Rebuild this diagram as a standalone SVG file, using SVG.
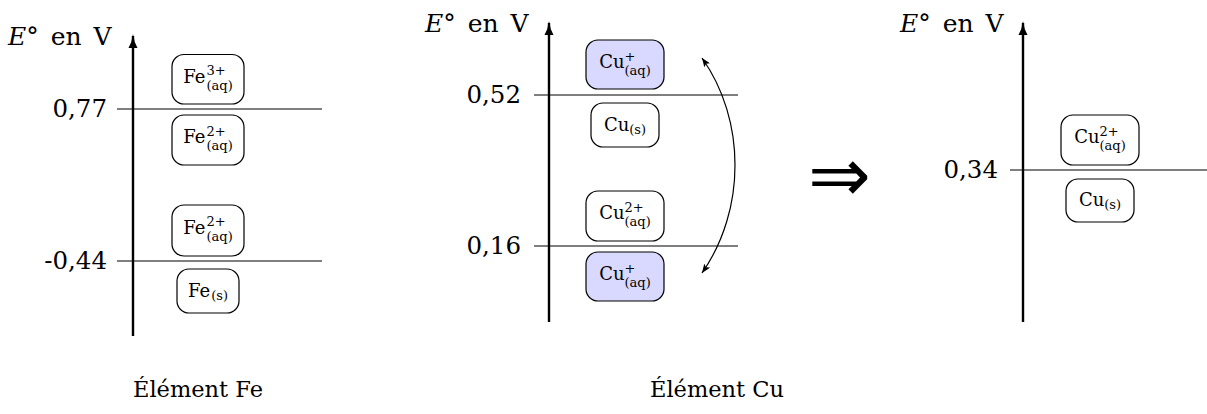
<svg xmlns="http://www.w3.org/2000/svg" width="1207" height="414" viewBox="0 0 1207 414" font-family="'DejaVu Serif', serif">
<style>
text{font-family:"DejaVu Serif",serif;fill:#000}
.lbl{font-size:25px;word-spacing:4px}
.num{font-size:24.5px;text-anchor:end}
.cap{font-size:22.5px}
.m{font-size:18px}
.s{font-size:13px}
.box{fill:#fff;stroke:#000;stroke-width:1.2}
.blue{fill:#d9d9ff}
.lvl{stroke:#000;stroke-width:1.1;fill:none}
.axis{stroke:#000;stroke-width:2.4;fill:none}
.curve{stroke:#000;stroke-width:1.2;fill:none}
</style>
<defs>
<marker id="ax" viewBox="0 0 14 10" refX="12" refY="5" markerWidth="14" markerHeight="10" markerUnits="userSpaceOnUse" orient="auto">
<path d="M0,0.5 Q6,4 14,5 Q6,6 0,9.5 Z" fill="#000"/>
</marker>
<marker id="hd" viewBox="0 0 9 7" refX="9" refY="3.5" markerWidth="9" markerHeight="7" markerUnits="userSpaceOnUse" orient="auto-start-reverse">
<path d="M0,0 L9,3.5 L0,7 L2,3.5 Z" fill="#000"/>
</marker>
</defs>

<g id="connectors">
<line class="axis" x1="133" y1="336" x2="133" y2="36" marker-end="url(#ax)"/>
<line class="axis" x1="549" y1="322" x2="549" y2="23" marker-end="url(#ax)"/>
<line class="axis" x1="1023" y1="322" x2="1023" y2="23" marker-end="url(#ax)"/>
<line class="lvl" x1="117" y1="109" x2="322" y2="109"/>
<line class="lvl" x1="117" y1="261" x2="322" y2="261"/>
<line class="lvl" x1="534" y1="95" x2="738" y2="95"/>
<line class="lvl" x1="534" y1="246" x2="738" y2="246"/>
<line class="lvl" x1="1010" y1="170" x2="1207" y2="170"/>
<path class="curve" d="M702,58 C746,120 746,210 702,273" marker-start="url(#hd)" marker-end="url(#hd)"/>
</g>

<g id="labels">
<text class="lbl" x="8" y="45"><tspan font-style="italic">E</tspan>° en V</text>
<text class="lbl" x="425" y="32"><tspan font-style="italic">E</tspan>° en V</text>
<text class="lbl" x="900" y="32"><tspan font-style="italic">E</tspan>° en V</text>
<text class="num" x="107" y="117">0,77</text>
<text class="num" x="107" y="269">-0,44</text>
<text class="num" x="521" y="103">0,52</text>
<text class="num" x="521" y="254">0,16</text>
<text class="num" x="998" y="178">0,34</text>
<text x="808" y="201" style="font-family:'DejaVu Sans',sans-serif;font-size:75px">⇒</text>
<text class="cap" x="133" y="397">Élément Fe</text>
<text class="cap" x="650" y="397">Élément Cu</text>
</g>

<g id="fe3">
<rect class="box" x="172" y="54.5" width="72" height="49.5" rx="12"/>
<text class="m" x="183.3" y="82.5">Fe<tspan class="s" x="206.5" y="75">3+</tspan><tspan class="s" x="206.5" y="89.5">(aq)</tspan></text>
</g>
<g id="fe2a">
<rect class="box" x="172" y="115" width="72" height="50" rx="12"/>
<text class="m" x="183.3" y="143">Fe<tspan class="s" x="206.5" y="135.5">2+</tspan><tspan class="s" x="206.5" y="150">(aq)</tspan></text>
</g>
<g id="fe2b">
<rect class="box" x="172" y="205" width="72" height="51" rx="12"/>
<text class="m" x="183.3" y="233.5">Fe<tspan class="s" x="206.5" y="226">2+</tspan><tspan class="s" x="206.5" y="240.5">(aq)</tspan></text>
</g>
<g id="fes">
<rect class="box" x="177" y="269" width="62" height="44" rx="12"/>
<text class="m" x="188" y="296.5">Fe<tspan class="s" x="211.3" y="299.5">(s)</tspan></text>
</g>

<g id="cu1a">
<rect class="box blue" x="586" y="40" width="78" height="49" rx="12"/>
<text class="m" x="599.3" y="68">Cu<tspan class="s" x="624.5" y="60.5">+</tspan><tspan class="s" x="624.5" y="75">(aq)</tspan></text>
</g>
<g id="cus1">
<rect class="box" x="591" y="103" width="68" height="44" rx="12"/>
<text class="m" x="604" y="130.5">Cu<tspan class="s" x="629.3" y="133.5">(s)</tspan></text>
</g>
<g id="cu2a">
<rect class="box" x="586" y="191" width="78" height="50" rx="12"/>
<text class="m" x="599.3" y="219">Cu<tspan class="s" x="624.5" y="211.5">2+</tspan><tspan class="s" x="624.5" y="226">(aq)</tspan></text>
</g>
<g id="cu1b">
<rect class="box blue" x="586" y="252" width="78" height="49" rx="12"/>
<text class="m" x="599.3" y="280">Cu<tspan class="s" x="624.5" y="272.5">+</tspan><tspan class="s" x="624.5" y="287">(aq)</tspan></text>
</g>

<g id="cu2b">
<rect class="box" x="1061" y="115" width="78" height="50" rx="12"/>
<text class="m" x="1074.3" y="143">Cu<tspan class="s" x="1099.5" y="135.5">2+</tspan><tspan class="s" x="1099.5" y="150">(aq)</tspan></text>
</g>
<g id="cus2">
<rect class="box" x="1066" y="179" width="68" height="43" rx="12"/>
<text class="m" x="1079" y="206">Cu<tspan class="s" x="1104.3" y="209">(s)</tspan></text>
</g>
</svg>
